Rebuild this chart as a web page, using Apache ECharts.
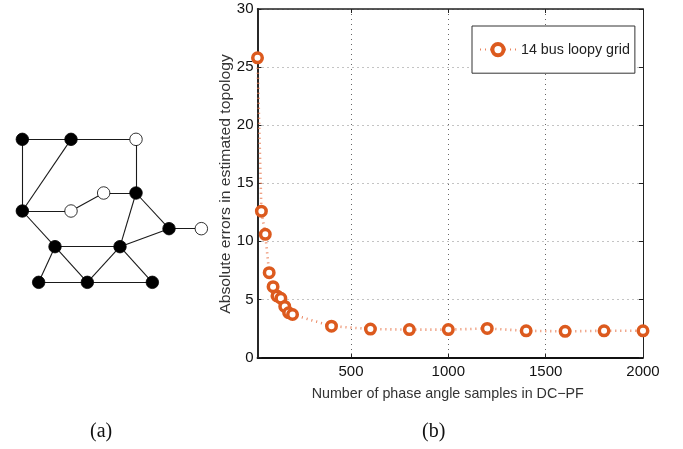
<!DOCTYPE html>
<html><head><meta charset="utf-8">
<style>html,body{margin:0;padding:0;background:#fff}#c{width:683px;height:449px}</style>
<script src="https://cdn.jsdelivr.net/npm/echarts@6/dist/echarts.min.js"></script>
</head><body><div id="c"></div>
<script>
const samples=[20,40,60,80,100,120,140,160,180,200,400,600,800,1000,1200,1400,1600,1800,2000];
const errors=[25.8,12.6,10.6,7.3,6.1,5.3,5.1,4.4,3.85,3.7,2.7,2.45,2.4,2.4,2.5,2.3,2.25,2.3,2.3];
const xTicks=[500,1000,1500,2000];
const yTicks=[0,5,10,15,20,25,30];
const seriesName='14 bus loopy grid';
const xName='Number of phase angle samples in DC\u2212PF';
const yName='Absolute errors in estimated topology';
const nodeNames=['A','B','C','D','E','F','G','H','I','J','K','L','M','N'];
const nodeX=[67,213,408,67,213,311,408,507,604,165,360,116,262,457];
const nodeY=[88,88,88,303,303,249,249,356,356,410,410,517,517,517];
const nodeFilled=[1,1,0,1,0,0,1,1,0,1,1,1,1,1];
const edges=['A-B','B-C','A-D','B-D','C-G','D-E','E-F','F-G','G-H','H-I','G-K','H-K','D-J','J-K','J-L','J-M','K-M','K-N','L-M','M-N'];
const ORANGE='#dc5a1e';
const chart=echarts.init(document.getElementById('c'),null,{renderer:'canvas'});
const hidden={show:false};
chart.setOption({
  animation:false,
  textStyle:{fontFamily:'Liberation Sans'},
  graphic:[
    {type:'text',left:90,top:422,style:{text:'(a)',font:'20px "Liberation Serif"',fill:'#111'}},
    {type:'text',left:422,top:422,style:{text:'(b)',font:'20px "Liberation Serif"',fill:'#111'}},
    {type:'text',x:226,y:184,rotation:Math.PI/2,scaleX:1.1,
     style:{text:yName,font:'14.3px "Liberation Sans"',fill:'#333',align:'center',verticalAlign:'middle'}}
  ],
  grid:[
    {left:257.5,top:9,width:385.5,height:348.5,containLabel:false,z:2},
    {left:0,top:110,width:230,height:190,show:false}
  ],
  legend:{
    left:472,top:26,padding:[16,5,16,7],
    itemWidth:36,itemHeight:14,itemGap:0,
    backgroundColor:'#fff',borderColor:'#333',borderWidth:1,borderRadius:0,
    itemStyle:{color:'#fff',borderColor:ORANGE,borderWidth:4},
    textStyle:{fontFamily:'Liberation Sans',fontSize:14.3,color:'#222',padding:[0,0,0,0]},
    data:[seriesName]
  },
  xAxis:[
    {type:'value',gridIndex:0,min:20,max:2000,position:'bottom',
     name:xName,nameLocation:'middle',nameGap:30,
     nameTextStyle:{fontFamily:'Liberation Sans',fontSize:14.3,color:'#333',padding:[0,5,0,0]},
     axisLine:{show:true,onZero:false,lineStyle:{color:'#111',width:1.8}},
     axisTick:{show:true,inside:true,length:4,lineStyle:{color:'#222',width:1},customValues:xTicks},
     axisLabel:{customValues:xTicks,margin:7,fontSize:15,color:'#111',fontFamily:'Liberation Sans',formatter:v=>String(v)},
     splitLine:{show:true,lineStyle:{color:'#666',width:1,type:[1,4]}}},
    {type:'value',gridIndex:0,min:20,max:2000,position:'top',
     axisLine:{show:true,onZero:false,lineStyle:{color:'#222',width:1.5}},
     axisTick:{show:true,inside:true,length:4,lineStyle:{color:'#222',width:1},customValues:xTicks},
     axisLabel:{show:false},splitLine:hidden},
    {type:'value',gridIndex:1,min:0,max:690,show:false},
  ],
  yAxis:[
    {type:'value',gridIndex:0,min:0,max:30,interval:5,position:'left',
     axisLine:{show:true,onZero:false,lineStyle:{color:'#111',width:1.8}},
     axisTick:{show:true,inside:true,length:4,lineStyle:{color:'#222',width:1}},
     axisLabel:{margin:4,fontSize:15,color:'#111',fontFamily:'Liberation Sans',
       formatter:v=>yTicks.includes(v)?String(v):''},
     splitLine:{show:true,lineStyle:{color:'#888',width:1,type:[1,4]}}},
    {type:'value',gridIndex:0,min:0,max:30,interval:5,position:'right',
     axisLine:{show:true,onZero:false,lineStyle:{color:'#222',width:1}},
     axisTick:{show:true,inside:true,length:4,lineStyle:{color:'#222',width:1}},
     axisLabel:{show:false},splitLine:hidden},
    {type:'value',gridIndex:1,min:0,max:570,inverse:true,show:false},
  ],
  series:[
    {type:'graph',coordinateSystem:'cartesian2d',xAxisIndex:2,yAxisIndex:2,silent:true,z:3,
     symbol:'circle',symbolSize:12.5,
     itemStyle:{borderColor:'#000',borderWidth:0.8},
     lineStyle:{color:'#1a1a1a',width:1.1,opacity:1,curveness:0},
     data:nodeNames.map((n,i)=>({name:n,value:[nodeX[i],nodeY[i]],itemStyle:{color:nodeFilled[i]?'#000':'#fff'}})),
     links:edges.map(e=>{const[a,b]=e.split('-');return{source:a,target:b};})},
    {type:'line',name:seriesName,xAxisIndex:0,yAxisIndex:0,z:4,clip:false,
     data:samples.map((x,i)=>[x,errors[i]]),
     symbol:'circle',symbolSize:9.5,showSymbol:true,
     itemStyle:{color:'#fff',borderColor:ORANGE,borderWidth:3.5},
     lineStyle:{color:'#e8764a',width:2.6,type:[1,4],opacity:.9}}
  ]
});
</script></body></html>
